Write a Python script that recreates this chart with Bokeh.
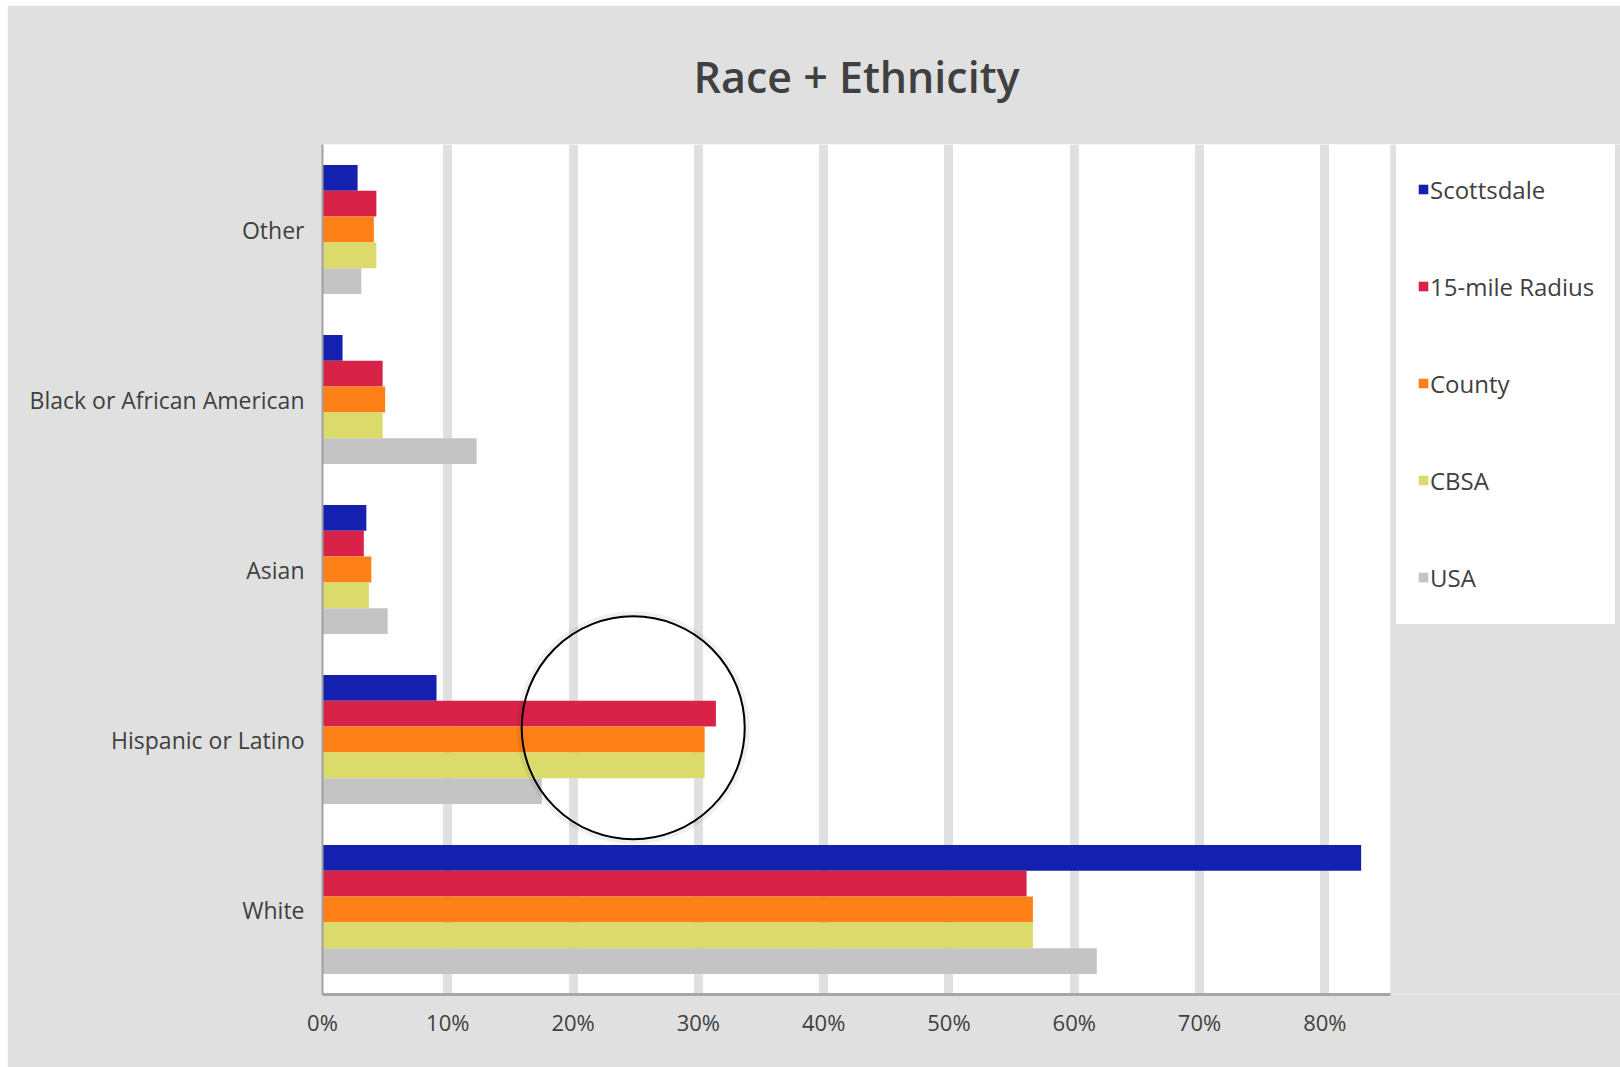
from bokeh.plotting import figure
from bokeh.models import (ColumnDataSource, FactorRange, Range1d, FixedTicker,
                          PrintfTickFormatter, Legend, LegendItem, BoxAnnotation)
from bokeh.transform import dodge
from bokeh.embed import file_html
from bokeh.resources import INLINE

# Categories, top to bottom
categories = ["Other", "Black or African American", "Asian",
              "Hispanic or Latino", "White"]

# Share of population (%) per geography
scottsdale = [2.8, 1.6, 3.5, 9.1, 82.9]
radius_15mi = [4.3, 4.8, 3.3, 31.4, 56.2]
county = [4.1, 5.0, 3.9, 30.5, 56.7]
cbsa = [4.3, 4.8, 3.7, 30.5, 56.7]
usa = [3.1, 12.3, 5.2, 17.5, 61.8]

series_names = ["Scottsdale", "15-mile Radius", "County", "CBSA", "USA"]
series_values = [scottsdale, radius_15mi, county, cbsa, usa]
series_colors = ["#1420AE", "#D82248", "#FE8016", "#DADB6A", "#C4C4C4"]

x_ticks = [0, 10, 20, 30, 40, 50, 60, 70, 80]
x_axis_end = 85.24          # where the value axis stops
x_view_end = 103.6          # canvas continues to the right for the legend

# highlighted group (ring around the Hispanic or Latino bars)
highlight_category = "Hispanic or Latino"
highlight_x = 24.8

FONT = "Open Sans"
TITLE_FONT = "'Open Sans SemiBold', 'Open Sans Semibold', 'Open Sans'"
TEXT_COLOR = "#404040"
PAGE_GRAY = "#e0e0e0"

data = {"cat": categories}
for name, vals in zip(series_names, series_values):
    data[name] = vals
source = ColumnDataSource(data)

p = figure(
    width=1613, height=1062,
    y_range=FactorRange(factors=list(reversed(categories)), range_padding=0),
    x_range=Range1d(0, x_view_end),
    output_backend="svg", toolbar_location=None,
    min_border_left=315, min_border_right=0,
    min_border_top=139, min_border_bottom=73,
    background_fill_color="white", border_fill_color=PAGE_GRAY,
    outline_line_color=None,
)
p.margin = (5, 0, 0, 7)

# gray strip right of the value axis, behind the legend
p.add_layout(BoxAnnotation(left=x_axis_end, fill_color=PAGE_GRAY, fill_alpha=1.0,
                           line_color=PAGE_GRAY, line_width=2, level="underlay"))

bar_h = 0.152
offsets = [2 * bar_h, bar_h, 0.0, -bar_h, -2 * bar_h]
renderers = []
for name, color, off in zip(series_names, series_colors, offsets):
    r = p.hbar(y=dodge("cat", off, range=p.y_range), left=0, right=name,
               height=bar_h, source=source, fill_color=color, line_color=None)
    renderers.append(r)

# ring around the highlighted group
ring_src = ColumnDataSource(dict(x=[highlight_x], cat=[highlight_category]))
p.scatter(x="x", y=dodge("cat", 0.069, range=p.y_range), source=ring_src,
          marker="circle", size=228, fill_color=None,
          line_color="black", line_alpha=0.06, line_width=5)
p.scatter(x="x", y=dodge("cat", 0.069, range=p.y_range), source=ring_src,
          marker="circle", size=223, fill_color=None,
          line_color="black", line_width=2)

# title
p.title.text = "Race + Ethnicity"
p.title.align = "left"
p.title.offset = 371
p.title.text_font = TITLE_FONT
p.title.text_font_size = "43px"
p.title.text_font_style = "normal"
p.title.text_color = TEXT_COLOR
p.title.standoff = 78

# grid
p.ygrid.grid_line_color = None
p.xgrid.ticker = FixedTicker(ticks=x_ticks[1:])
p.xgrid.grid_line_color = PAGE_GRAY
p.xgrid.grid_line_width = 9

# axes
p.xaxis.ticker = FixedTicker(ticks=x_ticks)
p.xaxis.bounds = (0, x_axis_end)
p.xaxis.formatter = PrintfTickFormatter(format="%d%%")
p.xaxis.major_tick_line_color = None
p.xaxis.minor_tick_line_color = None
p.xaxis.major_tick_out = 0
p.xaxis.major_tick_in = 0
p.xaxis.axis_line_color = "#a6a6a6"
p.xaxis.axis_line_width = 3
p.xaxis.major_label_standoff = 12

p.yaxis.major_tick_line_color = None
p.yaxis.minor_tick_line_color = None
p.yaxis.major_tick_out = 0
p.yaxis.major_tick_in = 0
p.yaxis.axis_line_color = "#a0a0a0"
p.yaxis.axis_line_width = 2
p.yaxis.major_label_standoff = 18

p.xaxis.major_label_text_font_size = "22px"
p.yaxis.major_label_text_font_size = "23px"
for ax in (p.xaxis, p.yaxis):
    ax.major_label_text_font = FONT
    ax.major_label_text_color = TEXT_COLOR

legend = Legend(
    items=[LegendItem(label=n, renderers=[r]) for n, r in zip(series_names, renderers)],
    location=(1074, 370),
    orientation="vertical",
    background_fill_color="white", background_fill_alpha=1.0,
    border_line_color="white", border_line_width=1,
    padding=20, spacing=45, margin=0,
    glyph_width=12, glyph_height=12, label_height=52,
    label_standoff=1,
    label_text_font=FONT, label_text_font_size="24px",
    label_text_color=TEXT_COLOR,
)
p.add_layout(legend, "center")

open("out.html", "w").write(file_html(p, INLINE))
